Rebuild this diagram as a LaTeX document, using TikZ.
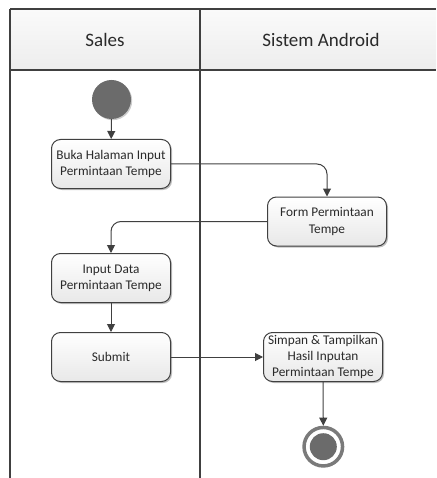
\documentclass[tikz,border=0pt]{standalone}
\usepackage{fontspec}
\setmainfont{Carlito}
\usetikzlibrary{arrows.meta,shadows}
\definecolor{lineclr}{HTML}{404040}
\definecolor{textclr}{HTML}{2A2A2A}
\definecolor{dotclr}{HTML}{6B6B6B}
\definecolor{hdrtop}{HTML}{FAFAFA}
\definecolor{hdrbot}{HTML}{EDEDED}
\definecolor{boxbot}{HTML}{E8E8E8}
\tikzset{
  lane/.style={draw=lineclr, line width=1.1pt},
  activity/.style={draw=lineclr, line width=1pt, rounded corners=9pt,
    top color=white, bottom color=boxbot, text=textclr,
    minimum width=119pt, minimum height=49pt, inner sep=1pt, align=center,
    font=\fontsize{13.3}{16.3}\selectfont,
    drop shadow={shadow xshift=1.5pt, shadow yshift=-1.5pt, fill=black, opacity=0.25}},
  header/.style={text=textclr, font=\fontsize{19}{22}\selectfont},
  conn/.style={draw=lineclr, line width=1pt, -{Triangle[length=8pt,width=8pt]}},
  startdot/.style={circle, fill=dotclr, minimum size=39pt, inner sep=0pt,
    drop shadow={shadow xshift=1.2pt, shadow yshift=-1.2pt, fill=black, opacity=0.2}},
  endring/.style={circle, draw=dotclr!90!white, line width=3.5pt, fill=white,
    minimum size=38.5pt, inner sep=0pt,
    drop shadow={shadow xshift=1.2pt, shadow yshift=-1.2pt, fill=black, opacity=0.2}},
  enddot/.style={circle, fill=dotclr, minimum size=27pt, inner sep=0pt}
}
\begin{document}
\begin{tikzpicture}[x=1pt, y=-1pt]
  \useasboundingbox (0,0) rectangle (436,478);
  % swimlane header band
  \shade[top color=hdrtop, bottom color=hdrbot] (10,9) rectangle (436,70);
  \draw[lane] (10,9) -- (436,9);
  \draw[lane] (10,70) -- (436,70);
  \draw[lane] (10,9) -- (10,478);
  \draw[lane] (200,9) -- (200,478);
  \node[header] (hsales) at (105,39.5) {Sales};
  \node[header] (handroid) at (321,39.5) {Sistem Android};

  % activities
  \node[startdot] (start) at (111.5,99.5) {};
  \node[activity] (buka) at (111,164) {Buka Halaman Input\\Permintaan Tempe};
  \node[activity] (form) at (327,221.5) {Form Permintaan\\Tempe};
  \node[activity] (input) at (111,278) {Input Data\\Permintaan Tempe};
  \node[activity] (submit) at (111,357) {Submit};
  \node[activity] (simpan) at (323,357) {Simpan \& Tampilkan\\Hasil Inputan\\Permintaan Tempe};
  \node[endring] (end) at (323.3,446.7) {};
  \node[enddot] (endcore) at (end.center) {};

  % control flow
  \draw[conn] (start) -- (buka);
  \draw[conn, rounded corners=10pt] (buka.east) -| (form.north);
  \draw[conn, rounded corners=10pt] (form.west) -| (input.north);
  \draw[conn] (input) -- (submit);
  \draw[conn] (submit.east) -- (simpan.west);
  \draw[conn] (simpan.south) -- (end.north);
\end{tikzpicture}
\end{document}
